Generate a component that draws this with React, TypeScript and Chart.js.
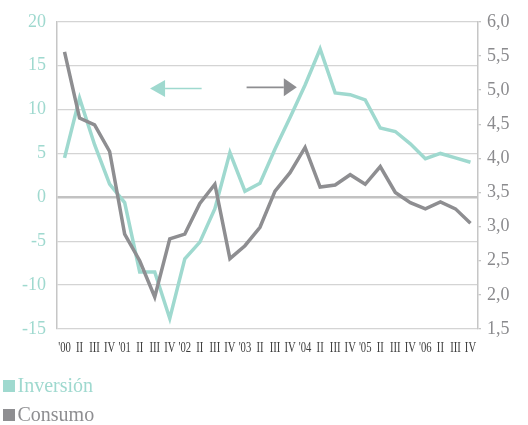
import React, { useEffect, useRef } from "react";
import { Chart, registerables } from "chart.js";

Chart.register(...registerables);

// Quarterly labels, 2000 Q1 – 2006 Q4
const quarters = [
  "'00", "II", "III", "IV",
  "'01", "II", "III", "IV",
  "'02", "II", "III", "IV",
  "'03", "II", "III", "IV",
  "'04", "II", "III", "IV",
  "'05", "II", "III", "IV",
  "'06", "II", "III", "IV",
];

// Inversión, % (left axis)
const inversion = [
  4.5, 11.3, 6.0, 1.5,
  -0.6, -8.5, -8.5, -13.8,
  -7.0, -5.1, -1.3, 5.1,
  0.7, 1.6, 5.5, 9.1,
  12.8, 16.9, 11.9, 11.7,
  11.1, 7.9, 7.5, 6.1,
  4.4, 5.0, 4.5, 4.0,
];

// Consumo, % (right axis)
const consumo = [
  5.56, 4.59, 4.49, 4.1,
  2.89, 2.5, 1.97, 2.82,
  2.89, 3.34, 3.62, 2.53,
  2.72, 2.99, 3.52, 3.79,
  4.16, 3.58, 3.61, 3.76,
  3.62, 3.88, 3.5, 3.35,
  3.26, 3.36, 3.26, 3.05,
];

const leftRange = [-15, 20];
const leftStep = 5;
const rightRange = [1.5, 6.0];
const rightStep = 0.5;

const TEAL = "#9fd9cf";
const GREY = "#8e8e91";
const GRID = "#d4d4d4";
const AXIS = "#c6c6c6";
const SERIF = "'Liberation Serif', serif";

// Direction arrows pointing to each series' axis (category index range, axis value)
const arrows = [
  { axis: "yL", from: 9.12, to: 5.69, value: 12.4, color: TEAL, head: 15, half: 8.5 },
  { axis: "yR", from: 12.11, to: 15.45, value: 5.04, color: GREY, head: 13, half: 9 },
];

const arrowPlugin = {
  id: "axisArrows",
  beforeDatasetsDraw(chart: any) {
    const { ctx } = chart;
    const xs = chart.scales.x;
    arrows.forEach((a) => {
      const ys = chart.scales[a.axis];
      const y = ys.getPixelForValue(a.value);
      const x0 = xs.getPixelForValue(a.from);
      const x1 = xs.getPixelForValue(a.to);
      const dir = Math.sign(x1 - x0);
      const base = x1 - dir * a.head;
      ctx.save();
      ctx.strokeStyle = a.color;
      ctx.fillStyle = a.color;
      ctx.lineWidth = 1.6;
      ctx.beginPath();
      ctx.moveTo(x0, y);
      ctx.lineTo(base, y);
      ctx.stroke();
      ctx.beginPath();
      ctx.moveTo(x1, y);
      ctx.lineTo(base, y - a.half);
      ctx.lineTo(base, y + a.half);
      ctx.closePath();
      ctx.fill();
      ctx.restore();
    });
  },
};

// Narrow quarter labels under the category axis
const quarterLabelPlugin = {
  id: "quarterLabels",
  afterDraw(chart: any) {
    const { ctx, chartArea } = chart;
    const xs = chart.scales.x;
    ctx.save();
    ctx.fillStyle = "#3c3c3c";
    ctx.font = `14px ${SERIF}`;
    ctx.textAlign = "center";
    ctx.textBaseline = "middle";
    quarters.forEach((q, i) => {
      ctx.save();
      ctx.translate(xs.getPixelForValue(i), chartArea.bottom + 19.5);
      ctx.scale(0.76, 1);
      ctx.fillText(q, 0, 0);
      ctx.restore();
    });
    ctx.restore();
  },
};

export default function App() {
  const canvasRef = useRef<HTMLCanvasElement | null>(null);

  useEffect(() => {
    document.body.style.margin = "0";
    const canvas = canvasRef.current;
    if (!canvas) return;
    const chart = new Chart(canvas, {
      type: "line",
      data: {
        labels: quarters,
        datasets: [
          {
            label: "Inversión",
            data: inversion,
            yAxisID: "yL",
            borderColor: TEAL,
            borderWidth: 3.5,
            pointRadius: 0,
            tension: 0,
            order: 1,
          },
          {
            label: "Consumo",
            data: consumo,
            yAxisID: "yR",
            borderColor: GREY,
            borderWidth: 3.5,
            pointRadius: 0,
            tension: 0,
            order: 0,
          },
        ],
      },
      options: {
        responsive: false,
        animation: false,
        layout: { padding: { top: 19, bottom: 96, left: 0, right: 0 } },
        plugins: {
          legend: { display: false },
          tooltip: { enabled: false },
        },
        scales: {
          x: {
            type: "category",
            offset: true,
            grid: { display: false },
            border: { display: false },
            ticks: { display: false },
            afterFit: (s: any) => {
              s.height = 0;
            },
          },
          yL: {
            position: "left",
            min: leftRange[0],
            max: leftRange[1],
            grid: {
              color: (c: any) => (c.tick && c.tick.value === 0 ? "#c2c2c2" : GRID),
              lineWidth: (c: any) => (c.tick && c.tick.value === 0 ? 2.6 : 1.3),
              drawTicks: false,
            },
            border: { display: true, color: AXIS, width: 1.5 },
            ticks: {
              stepSize: leftStep,
              color: TEAL,
              padding: 11,
              font: { family: SERIF, size: 18 },
              callback: (v: any) => String(v),
            },
            afterFit: (s: any) => {
              s.width = 57;
            },
          },
          yR: {
            position: "right",
            min: rightRange[0],
            max: rightRange[1],
            grid: {
              drawOnChartArea: false,
              drawTicks: true,
              tickLength: 3,
              color: AXIS,
              lineWidth: 1.3,
            },
            border: { display: true, color: AXIS, width: 1.5 },
            ticks: {
              stepSize: rightStep,
              color: "#8b8b8e",
              padding: 6,
              font: { family: SERIF, size: 18 },
              callback: (v: any) => Number(v).toFixed(1).replace(".", ","),
            },
            afterFit: (s: any) => {
              s.width = 50;
            },
          },
        },
      },
      plugins: [arrowPlugin, quarterLabelPlugin],
    });
    return () => chart.destroy();
  }, []);

  const legendItems = [
    { label: "Inversión", color: TEAL, top: 375.3 },
    { label: "Consumo", color: GREY, top: 404 },
  ];

  return (
    <div style={{ position: "relative", width: 528, height: 425, fontFamily: SERIF }}>
      <canvas ref={canvasRef} width={528} height={425} style={{ display: "block" }} />
      {legendItems.map((it) => (
        <div
          key={it.label}
          style={{
            position: "absolute",
            left: 3,
            top: it.top,
            height: 20,
            display: "flex",
            alignItems: "flex-start",
          }}
        >
          <span
            style={{
              display: "inline-block",
              width: 12,
              height: 12,
              marginTop: 4.8,
              background: it.color,
            }}
          />
          <span
            style={{
              marginLeft: 2.5,
              fontSize: 20,
              lineHeight: "20px",
              color: it.color,
            }}
          >
            {it.label}
          </span>
        </div>
      ))}
    </div>
  );
}
